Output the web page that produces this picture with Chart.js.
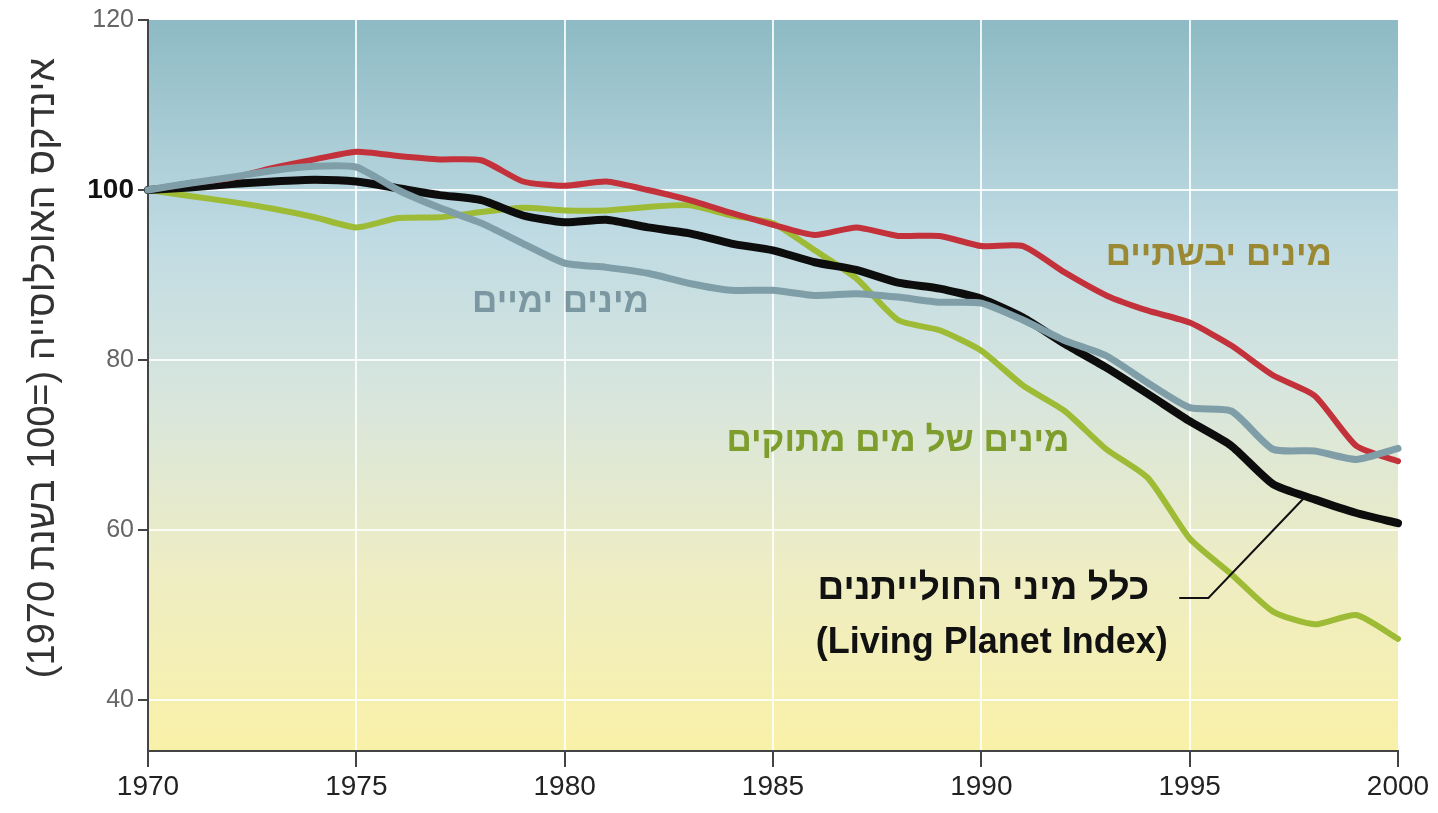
<!DOCTYPE html>
<html>
<head>
<meta charset="utf-8">
<title>Living Planet Index</title>
<script src="https://cdn.jsdelivr.net/npm/chart.js@4/dist/chart.umd.min.js"></script>
<style>
  body { margin: 0; background: #fff; }
  #chart { display: block; }
</style>
</head>
<body>
<canvas id="chart" width="1438" height="813"></canvas>
<script>
// Data (index, 1970 = 100)
const years = [1970, 1971, 1972, 1973, 1974, 1975, 1976, 1977, 1978, 1979, 1980,
  1981, 1982, 1983, 1984, 1985, 1986, 1987, 1988, 1989, 1990,
  1991, 1992, 1993, 1994, 1995, 1996, 1997, 1998, 1999, 2000];

const terrestrial = [100, 100.8, 101.4, 102.6, 103.6, 104.5, 104.0, 103.6, 103.5, 101.0, 100.5,
  101.0, 100.0, 98.8, 97.3, 95.9, 94.7, 95.6, 94.6, 94.6, 93.4,
  93.4, 90.3, 87.6, 85.8, 84.4, 81.7, 78.2, 75.8, 69.9, 68.1];

const marine = [100, 100.8, 101.5, 102.3, 102.8, 102.7, 100.0, 97.9, 96.1, 93.7, 91.4,
  90.9, 90.2, 89.0, 88.2, 88.2, 87.6, 87.8, 87.4, 86.8, 86.7,
  84.7, 82.3, 80.5, 77.3, 74.4, 74.0, 69.5, 69.3, 68.3, 69.6];

const freshwater = [100, 99.3, 98.6, 97.8, 96.8, 95.6, 96.7, 96.8, 97.4, 97.9, 97.6,
  97.6, 98.0, 98.2, 97.0, 96.1, 92.9, 89.6, 84.7, 83.5, 81.1,
  77.0, 74.0, 69.5, 66.1, 59.0, 54.8, 50.4, 48.9, 50.0, 47.2];

const allSpecies = [100, 100.3, 100.7, 101.0, 101.2, 101.0, 100.2, 99.4, 98.8, 97.0, 96.2,
  96.5, 95.6, 94.9, 93.7, 92.9, 91.5, 90.6, 89.1, 88.4, 87.2,
  85.0, 81.9, 79.1, 76.0, 72.8, 69.9, 65.4, 63.6, 62.0, 60.8];

const yTicks = [40, 60, 80, 100, 120];
const xTicks = [1970, 1975, 1980, 1985, 1990, 1995, 2000];

const yTitle = "אינדקס האוכלוסייה (=100 בשנת 1970)";

// Labels placed in data coordinates
const seriesLabels = [
  { text: "מינים יבשתיים", x: 1995.7, y: 92.3, color: "#9a8833", size: 35 },
  { text: "מינים ימיים", x: 1979.9, y: 86.8, color: "#7b97a1", size: 35 },
  { text: "מינים של מים מתוקים", x: 1988.0, y: 70.4, color: "#7d9d2c", size: 35 },
  { text: "כלל מיני החולייתנים", x: 1990.05, y: 53.1, color: "#111", size: 37 },
  { text: "(Living Planet Index)", x: 1990.25, y: 46.7, color: "#111", size: 36 }
];
const leader = [[1994.75, 52.0], [1995.45, 52.0], [1997.75, 63.8]];

function toPoints(values) {
  return years.map((yr, i) => ({ x: yr, y: values[i] }));
}

// Background gradient behind the plot
const backgroundPlugin = {
  id: "bg",
  beforeDraw(chart) {
    const { ctx, chartArea: a } = chart;
    const g = ctx.createLinearGradient(0, a.top, 0, a.bottom);
    g.addColorStop(0, "#8dbac4");
    g.addColorStop(0.3, "#c0dbe3");
    g.addColorStop(0.5, "#d6e5de");
    g.addColorStop(0.75, "#eeedc4");
    g.addColorStop(1, "#f9f1a8");
    ctx.save();
    ctx.fillStyle = g;
    ctx.fillRect(a.left, a.top, a.right - a.left, a.bottom - a.top);
    ctx.restore();
  }
};

// Series names, leader line and the y axis title
const labelsPlugin = {
  id: "labels",
  afterDatasetsDraw(chart) {
    const { ctx, scales } = chart;
    const xs = scales.x, ys = scales.y;
    ctx.save();
    ctx.direction = "rtl";
    ctx.textAlign = "center";
    ctx.textBaseline = "middle";
    seriesLabels.forEach(l => {
      ctx.font = "bold " + l.size + "px 'Liberation Sans', 'DejaVu Sans', sans-serif";
      ctx.fillStyle = l.color;
      ctx.fillText(l.text, xs.getPixelForValue(l.x), ys.getPixelForValue(l.y));
    });

    ctx.strokeStyle = "#111";
    ctx.lineWidth = 2;
    ctx.beginPath();
    leader.forEach((p, i) => {
      const px = xs.getPixelForValue(p[0]), py = ys.getPixelForValue(p[1]);
      if (i === 0) ctx.moveTo(px, py); else ctx.lineTo(px, py);
    });
    ctx.stroke();

    ctx.translate(44, 368);
    ctx.rotate(-Math.PI / 2);
    ctx.fillStyle = "#333";
    ctx.font = "38px 'Liberation Sans', 'DejaVu Sans', sans-serif";
    ctx.fillText(yTitle, 0, 0);
    ctx.restore();
  }
};

const lineStyle = {
  fill: false,
  pointRadius: 0,
  tension: 0.2,
  clip: 10,
  borderCapStyle: "round",
  borderJoinStyle: "round"
};

new Chart(document.getElementById("chart"), {
  type: "line",
  data: {
    datasets: [
      { ...lineStyle, label: "מינים ימיים", data: toPoints(marine), borderColor: "#7f9ea8", borderWidth: 7 },
      { ...lineStyle, label: "מינים יבשתיים", data: toPoints(terrestrial), borderColor: "#c3313a", borderWidth: 6 },
      { ...lineStyle, label: "כלל מיני החולייתנים", data: toPoints(allSpecies), borderColor: "#0d0d0d", borderWidth: 8 },
      { ...lineStyle, label: "מינים של מים מתוקים", data: toPoints(freshwater), borderColor: "#9dbb35", borderWidth: 6 }
    ]
  },
  options: {
    responsive: false,
    animation: false,
    layout: { padding: { top: 20, right: 40 } },
    plugins: {
      legend: { display: false },
      tooltip: { enabled: false }
    },
    scales: {
      x: {
        type: "linear",
        min: 1970,
        max: 2000,
        afterBuildTicks: axis => { axis.ticks = xTicks.map(v => ({ value: v })); },
        afterFit: axis => { axis.height = 62; },
        border: { color: "#444", width: 2 },
        grid: {
          color: ctx => (ctx.tick && (ctx.tick.value === 1970 || ctx.tick.value === 2000)) ? "rgba(0,0,0,0)" : "rgba(255,255,255,0.85)",
          lineWidth: 2,
          tickColor: "#444",
          tickLength: 16,
          tickWidth: 2
        },
        ticks: {
          color: "#222",
          padding: 3,
          maxRotation: 0,
          font: { family: "'Liberation Sans Narrow', 'Liberation Sans', sans-serif", size: 28 },
          callback: v => String(v)
        }
      },
      y: {
        min: 34,
        max: 120,
        afterBuildTicks: axis => { axis.ticks = yTicks.map(v => ({ value: v })); },
        afterFit: axis => { axis.width = 148; },
        border: { color: "#444", width: 2 },
        grid: {
          color: ctx => (ctx.tick && ctx.tick.value === 120) ? "rgba(0,0,0,0)" : "rgba(255,255,255,0.85)",
          lineWidth: 2,
          tickColor: "#444",
          tickLength: 10,
          tickWidth: 2
        },
        ticks: {
          padding: 4,
          color: ctx => ctx.tick.value === 100 ? "#111" : "#666",
          font: ctx => ({
            family: "'Liberation Sans', sans-serif",
            size: ctx.tick && ctx.tick.value === 100 ? 28 : 25,
            weight: ctx.tick && ctx.tick.value === 100 ? "bold" : "normal"
          }),
          callback: v => String(v)
        }
      }
    }
  },
  plugins: [backgroundPlugin, labelsPlugin]
});
</script>
</body>
</html>
